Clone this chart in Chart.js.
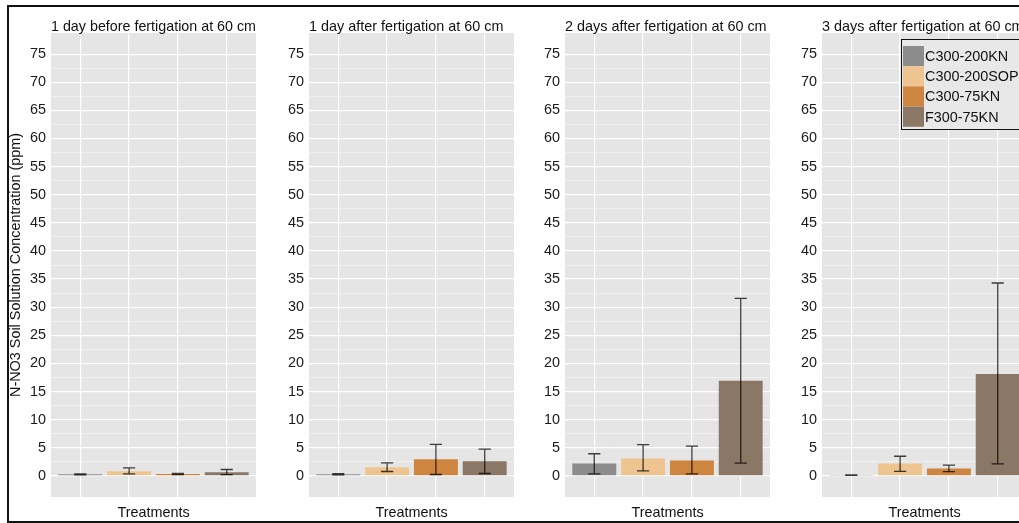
<!DOCTYPE html>
<html>
<head>
<meta charset="utf-8">
<script src="https://cdn.jsdelivr.net/npm/chart.js@4.4.1/dist/chart.umd.min.js"></script>
<style>
  html, body { margin: 0; padding: 0; background: #fff; overflow: hidden; width: 1019px; height: 523px; }
  #frame { position: absolute; left: 7px; top: 5px; width: 1100px; height: 514px; border: 2px solid #111; }
  canvas { position: absolute; top: 0; }
</style>
</head>
<body>
<div id="frame"></div>
<canvas id="p0" width="270" height="523"></canvas>
<canvas id="p1" width="270" height="523"></canvas>
<canvas id="p2" width="270" height="523"></canvas>
<canvas id="p3" width="270" height="523"></canvas>
<script>
// treatments and colours (legend order)
const treatments = ['C300-200KN', 'C300-200SOP', 'C300-75KN', 'F300-75KN'];
const barColors = ['#8c8c8c', '#eec591', '#cd853f', '#8b7765'];
const panelTitles = [
    '1 day before fertigation at 60 cm',
    '1 day after fertigation at 60 cm',
    '2 days after fertigation at 60 cm',
    '3 days after fertigation at 60 cm',
];

// mean N-NO3 per treatment, one array per panel
const meanBefore = [0.3, 0.85, 0.35, 0.65];
const meanDay1 = [0.3, 1.55, 2.98, 2.62];
const meanDay2 = [2.2, 3.1, 2.74, 16.9];
const meanDay3 = [0.15, 2.2, 1.3, 18.1];

// error bar bounds
const lowBefore = [0.2, 0.36, 0.25, 0.24];
const highBefore = [0.35, 1.43, 0.45, 1.14];
const lowDay1 = [0.2, 0.78, 0.25, 0.43];
const highDay1 = [0.4, 2.3, 5.6, 4.77];
const lowDay2 = [0.36, 0.9, 0.36, 2.26];
const highDay2 = [3.94, 5.55, 5.3, 31.56];
const lowDay3 = [0.08, 0.82, 0.77, 2.15];
const highDay3 = [0.2, 3.5, 1.9, 34.3];

const yLabels = [0, 5, 10, 15, 20, 25, 30, 35, 40, 45, 50, 55, 60, 65, 70, 75];
const xPositions = [1, 2, 3, 4];

const panels = [
    { mean: meanBefore, low: lowBefore, high: highBefore },
    { mean: meanDay1, low: lowDay1, high: highDay1 },
    { mean: meanDay2, low: lowDay2, high: highDay2 },
    { mean: meanDay3, low: lowDay3, high: highDay3 },
];
const plotLefts = [51, 309, 565, 822];

Chart.defaults.font.family = '"Liberation Sans", Arial, sans-serif';
Chart.defaults.font.size = 14.4;
Chart.defaults.color = '#1a1a1a';

const panelBg = {
    id: 'panelBg',
    beforeDraw(chart) {
        const a = chart.chartArea;
        const ctx = chart.ctx;
        ctx.save();
        ctx.fillStyle = '#e5e5e5';
        ctx.fillRect(a.left, a.top, a.right - a.left, a.bottom - a.top);
        ctx.restore();
    }
};

const errorBars = {
    id: 'errorBars',
    afterDatasetsDraw(chart, args, opts) {
        const xs = chart.scales.x, ys = chart.scales.y;
        const ctx = chart.ctx;
        ctx.save();
        ctx.strokeStyle = 'rgba(0,0,0,0.75)';
        ctx.lineWidth = 1.3;
        xPositions.forEach((xv, i) => {
            const x = xs.getPixelForValue(xv);
            const x0 = xs.getPixelForValue(xv - 0.125);
            const x1 = xs.getPixelForValue(xv + 0.125);
            const yl = ys.getPixelForValue(opts.low[i]);
            const yh = ys.getPixelForValue(opts.high[i]);
            ctx.beginPath();
            ctx.moveTo(x, yl); ctx.lineTo(x, yh);
            ctx.moveTo(x0, yl); ctx.lineTo(x1, yl);
            ctx.moveTo(x0, yh); ctx.lineTo(x1, yh);
            ctx.stroke();
        });
        ctx.restore();
    }
};

const boxLegend = {
    id: 'boxLegend',
    afterDraw(chart, args, opts) {
        if (!opts.show) return;
        const ctx = chart.ctx;
        const left = chart.chartArea.left + 79, top = 39, row = 20.2;
        ctx.save();
        ctx.fillStyle = '#e8e8e8';
        ctx.fillRect(left, top, 140, 91);
        ctx.strokeStyle = '#111';
        ctx.lineWidth = 1;
        ctx.strokeRect(left + 0.5, top + 0.5, 140, 90);
        ctx.font = '14.4px "Liberation Sans", Arial, sans-serif';
        ctx.textBaseline = 'middle';
        treatments.forEach((t, i) => {
            const y = top + 7 + i * row;
            ctx.fillStyle = barColors[i];
            ctx.fillRect(left + 2, y, 21, row);
            ctx.fillStyle = '#111';
            ctx.fillText(t, left + 24, y + row / 2 + 1);
        });
        ctx.restore();
    }
};

panels.forEach((p, k) => {
    const canvas = document.getElementById('p' + k);
    canvas.style.left = (plotLefts[k] - 51) + 'px';
    new Chart(canvas, {
        type: 'bar',
        data: {
            datasets: [{
                data: xPositions.map((x, i) => ({ x: x, y: p.mean[i] })),
                backgroundColor: barColors,
                borderWidth: 0,
                categoryPercentage: 1,
                barPercentage: 0.9,
            }],
        },
        options: {
            responsive: false,
            animation: false,
            devicePixelRatio: 1,
            layout: { padding: { left: 0, right: 14, top: 0, bottom: 0 } },
            plugins: {
                legend: { display: false },
                tooltip: { enabled: false },
                title: {
                    display: true,
                    text: panelTitles[k],
                    align: 'start',
                    fullSize: false,
                    color: '#111',
                    font: { size: 14.4, weight: 'normal', lineHeight: 0.8 },
                    padding: { top: 21.5, bottom: 0 },
                },
                errorBars: { low: p.low, high: p.high },
                boxLegend: { show: k === 3 },
            },
            scales: {
                x: {
                    type: 'linear',
                    min: 0.4,
                    max: 4.6,
                    offset: false,
                    afterBuildTicks: s => { s.ticks = xPositions.map(v => ({ value: v })); },
                    afterFit: s => { s.height = 26; },
                    ticks: { display: false },
                    grid: { color: '#ffffff', lineWidth: 1.2, drawTicks: false, offset: false },
                    border: { display: false },
                    title: {
                        display: true,
                        text: 'Treatments',
                        color: '#111',
                        font: { size: 14.4, lineHeight: 1 },
                        padding: { top: 0, bottom: 3 },
                    },
                },
                y: {
                    min: -3.75,
                    max: 78.75,
                    afterBuildTicks: s => {
                        const t = [];
                        yLabels.forEach(v => { t.push({ value: v }); if (v < 75) t.push({ value: v + 2.5 }); });
                        s.ticks = t;
                    },
                    afterFit: s => { s.width = 51; },
                    ticks: {
                        autoSkip: false,
                        padding: 5,
                        color: '#1a1a1a',
                        font: { size: 14.4 },
                        callback: v => (yLabels.includes(v) ? String(v) : ''),
                    },
                    grid: {
                        drawTicks: false,
                        color: c => (yLabels.includes(c.tick.value) ? '#ffffff' : 'rgba(255,255,255,0.55)'),
                        lineWidth: c => (yLabels.includes(c.tick.value) ? 1.2 : 0.8),
                    },
                    border: { display: false },
                    title: {
                        display: k === 0,
                        text: 'N-NO3 Soil Solution Concentration (ppm)',
                        color: '#111',
                        font: { size: 14.4, lineHeight: 1 },
                        padding: { top: 9, bottom: 0 },
                    },
                },
            },
        },
        plugins: [panelBg, errorBars, boxLegend],
    });
});
</script>
</body>
</html>
